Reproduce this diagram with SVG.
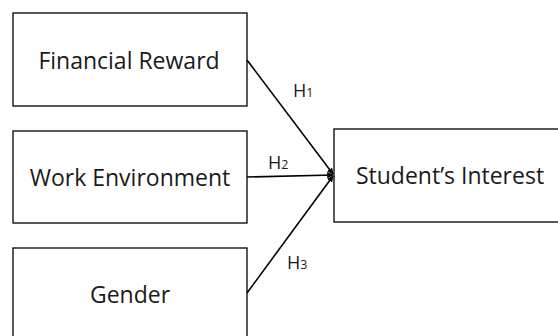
<svg xmlns="http://www.w3.org/2000/svg" width="558" height="336" viewBox="0 0 558 336">
<defs>
<style>
.box{fill:#fff;stroke:#000;stroke-width:1.3}
.t{font-family:"Open Sans","Liberation Sans",sans-serif;font-size:23px;fill:#1a1a1a;text-anchor:middle}
.h{font-family:"Open Sans","Liberation Sans",sans-serif;font-size:18px;fill:#1a1a1a}
.sub{font-size:12.5px}
.c{stroke:#000;stroke-width:1.6;fill:none;marker-end:url(#ah)}
</style>
<marker id="ah" viewBox="0 0 10 10" refX="9" refY="5" markerWidth="4" markerHeight="4" orient="auto-start-reverse" markerUnits="strokeWidth">
<path d="M0,0 L10,5 L0,10 z" fill="#000"/>
</marker>
</defs>
<rect width="558" height="336" fill="#fff"/>
<g id="financial-reward">
<rect class="box" x="13" y="13" width="234" height="93"/>
<text class="t" x="129" y="69">Financial Reward</text>
</g>
<g id="work-environment">
<rect class="box" x="13" y="131" width="234" height="92"/>
<text class="t" x="130" y="186">Work Environment</text>
</g>
<g id="gender">
<rect class="box" x="13" y="248" width="234" height="100"/>
<text class="t" x="130" y="303">Gender</text>
</g>
<g id="students-interest">
<rect class="box" x="334" y="129" width="240" height="93"/>
<text class="t" x="450" y="184">Student’s Interest</text>
</g>
<g id="connectors">
<line class="c" x1="247" y1="60" x2="333" y2="174"/>
<line class="c" x1="247" y1="177" x2="333" y2="175"/>
<line class="c" x1="247" y1="293" x2="333" y2="176"/>
<text class="h" x="293" y="97">H<tspan class="sub">1</tspan></text>
<text class="h" x="268" y="169">H<tspan class="sub">2</tspan></text>
<text class="h" x="287" y="269">H<tspan class="sub">3</tspan></text>
</g>
</svg>
